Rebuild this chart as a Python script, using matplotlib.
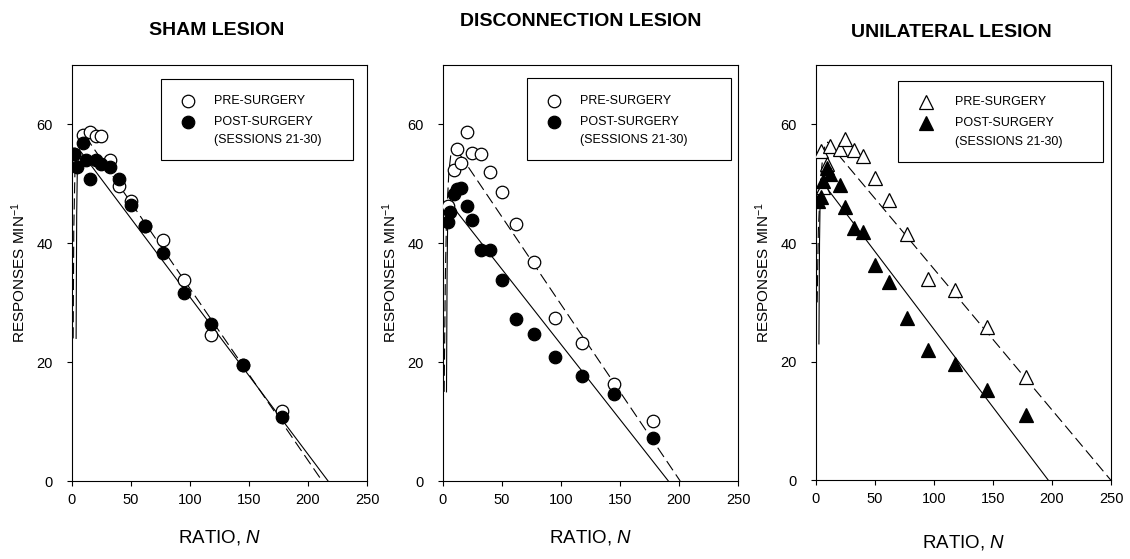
#!/usr/bin/env python3
"""Responses per minute vs ratio requirement: sham, disconnection, unilateral lesions."""

import matplotlib

matplotlib.use("Agg")
import matplotlib.pyplot as plt
from matplotlib.patches import Rectangle

plt.rcParams["font.family"] = ["Liberation Sans", "DejaVu Sans"]
plt.rcParams["mathtext.fontset"] = "custom"
plt.rcParams["mathtext.rm"] = "Liberation Sans"
plt.rcParams["mathtext.it"] = "Liberation Sans:italic"
plt.rcParams["mathtext.bf"] = "Liberation Sans:bold"

# ---- data ----
titles = ["SHAM LESION", "DISCONNECTION LESION", "UNILATERAL LESION"]

# sham lesion
sham_pre_x = [2, 9, 15, 20, 25, 32, 40, 50, 62, 77, 95, 118, 145, 178]
sham_pre_y = [55.0, 58.3, 58.8, 58.0, 58.0, 54.0, 49.7, 47.2, 42.9, 40.5, 33.8, 24.5, 19.5, 11.8]
sham_post_x = [2, 4, 9, 12, 15, 20, 25, 32, 40, 50, 62, 77, 95, 118, 145, 178]
sham_post_y = [55.0, 52.8, 56.8, 54.0, 50.9, 54.1, 53.4, 52.9, 50.9, 46.4, 42.9, 38.3, 31.6, 26.5, 19.5, 10.8]
sham_pre_fit_x = [1, 1.5, 2.5, 5, 10, 212]
sham_pre_fit_y = [24, 42, 52, 57, 58.4, 0]
sham_post_fit_x = [3.5, 4, 4.5, 6, 217]
sham_post_fit_y = [24, 45, 52, 55.8, 0]

# disconnection lesion
disc_pre_x = [4, 9, 12, 15, 20, 25, 32, 40, 50, 62, 77, 95, 118, 145, 178]
disc_pre_y = [46.3, 52.3, 55.8, 53.5, 58.7, 55.2, 55.0, 52.0, 48.6, 43.2, 36.9, 27.4, 23.2, 16.4, 10.1]
disc_post_x = [4, 6, 9, 12, 15, 20, 25, 32, 40, 50, 62, 77, 95, 118, 145, 178]
disc_post_y = [43.6, 45.2, 48.3, 49.2, 49.3, 46.2, 43.9, 38.9, 38.9, 33.9, 27.3, 24.7, 20.8, 17.7, 14.6, 7.2]
disc_pre_fit_x = [1, 2, 3, 5, 7, 9, 201]
disc_pre_fit_y = [15, 34, 44, 52, 55.5, 56.5, 0]
disc_post_fit_x = [3, 3.5, 4, 5, 191]
disc_post_fit_y = [15, 35, 44, 47, 0]

# unilateral lesion
uni_pre_x = [4, 6, 9, 12, 20, 25, 32, 40, 50, 62, 77, 95, 118, 145, 178]
uni_pre_y = [55.5, 49.5, 53.4, 56.3, 55.8, 57.5, 55.7, 54.6, 50.9, 47.2, 41.5, 34.0, 32.1, 25.9, 17.4]
uni_post_x = [2, 4, 6, 9, 12, 20, 25, 32, 40, 50, 62, 77, 95, 118, 145, 178]
uni_post_y = [47.0, 47.8, 50.5, 52.6, 51.7, 49.8, 46.1, 42.5, 41.9, 36.3, 33.5, 27.3, 22.0, 19.7, 15.2, 11.0]
uni_pre_fit_x = [1, 2, 4, 6, 8, 10, 250]
uni_pre_fit_y = [30, 42, 51, 55, 56.7, 57, 0]
uni_post_fit_x = [2.5, 3, 3.5, 4.5, 197]
uni_post_fit_y = [23, 40, 47, 50.5, 0]

legend_labels = ["PRE-SURGERY", "POST-SURGERY", "(SESSIONS 21-30)"]
x_ticks = [0, 50, 100, 150, 200, 250]
y_ticks = [0, 20, 40, 60]


def draw_panel(ax, pre, post, pre_fit, post_fit, marker, legend_box, legend_rows):
    ax.plot(pre_fit[0], pre_fit[1], color="black", lw=0.8, dashes=(10, 4.5), zorder=2)
    ax.plot(post_fit[0], post_fit[1], color="black", lw=0.8, zorder=2)
    ms = 9 if marker == "o" else 10
    ax.plot(pre[0], pre[1], ls="none", marker=marker, ms=ms, mfc="white", mec="black", mew=0.9, zorder=3)
    ax.plot(post[0], post[1], ls="none", marker=marker, ms=ms, mfc="black", mec="black", mew=0.9, zorder=4)

    ax.set_xlim(0, 250)
    ax.set_ylim(0, 70)
    ax.set_xticks(x_ticks)
    ax.set_yticks(y_ticks)
    ax.tick_params(direction="out", length=3.6, width=0.8, labelsize=10.5, top=False, right=False)
    ax.tick_params(axis="y", pad=10)
    ax.tick_params(axis="x", pad=5)
    for sp in ax.spines.values():
        sp.set_linewidth(0.8)

    ax.set_xlabel(r"RATIO, $\mathit{N}$", fontsize=13.5, va="top")
    ax.set_ylabel(r"RESPONSES MIN$^{-1}$", fontsize=11)
    ax.yaxis.set_label_coords(-0.15, 0.5)

    # legend box drawn by hand so the marker sits on the first label line
    x0, y0, x1, y1 = legend_box
    ax.add_patch(Rectangle((x0, y0), x1 - x0, y1 - y0, transform=ax.transAxes,
                           fill=False, ec="black", lw=0.8, zorder=5))
    mx, tx, rows = legend_rows
    ax.plot([mx], [rows[0]], transform=ax.transAxes, marker=marker, ms=ms,
            mfc="white", mec="black", mew=0.9, ls="none", clip_on=False, zorder=6)
    ax.plot([mx], [rows[1]], transform=ax.transAxes, marker=marker, ms=ms,
            mfc="black", mec="black", mew=0.9, ls="none", clip_on=False, zorder=6)
    for lab, ry in zip(legend_labels, rows):
        ax.text(tx, ry, lab, transform=ax.transAxes, fontsize=9, va="center", ha="left", zorder=6)


def main():
    fig = plt.figure(figsize=(11.3, 5.59), dpi=100)
    ax1 = fig.add_axes([0.0637, 0.1395, 0.2611, 0.7442])
    ax2 = fig.add_axes([0.3920, 0.1395, 0.2611, 0.7442])
    ax3 = fig.add_axes([0.7221, 0.1406, 0.2611, 0.7431])

    draw_panel(ax1, (sham_pre_x, sham_pre_y), (sham_post_x, sham_post_y),
               (sham_pre_fit_x, sham_pre_fit_y), (sham_post_fit_x, sham_post_fit_y), "o",
               (0.302, 0.772, 0.953, 0.966), (0.393, 0.481, [0.914, 0.864, 0.820]))
    draw_panel(ax2, (disc_pre_x, disc_pre_y), (disc_post_x, disc_post_y),
               (disc_pre_fit_x, disc_pre_fit_y), (disc_post_fit_x, disc_post_fit_y), "o",
               (0.285, 0.772, 0.976, 0.969), (0.376, 0.464, [0.914, 0.864, 0.820]))
    draw_panel(ax3, (uni_pre_x, uni_pre_y), (uni_post_x, uni_post_y),
               (uni_pre_fit_x, uni_pre_fit_y), (uni_post_fit_x, uni_post_fit_y), "^",
               (0.278, 0.767, 0.973, 0.962), (0.373, 0.471, [0.911, 0.861, 0.815]))

    ax1.xaxis.set_label_coords(0.5, -0.112)
    ax2.xaxis.set_label_coords(0.5, -0.114)
    ax3.xaxis.set_label_coords(0.5, -0.126)

    fig.text(0.192, 0.946, titles[0], fontsize=14, fontweight="bold", ha="center", va="center")
    fig.text(0.514, 0.961, titles[1], fontsize=14, fontweight="bold", ha="center", va="center")
    fig.text(0.842, 0.942, titles[2], fontsize=14, fontweight="bold", ha="center", va="center")

    fig.savefig("out.png", dpi=100)
    plt.close(fig)


if __name__ == "__main__":
    main()
